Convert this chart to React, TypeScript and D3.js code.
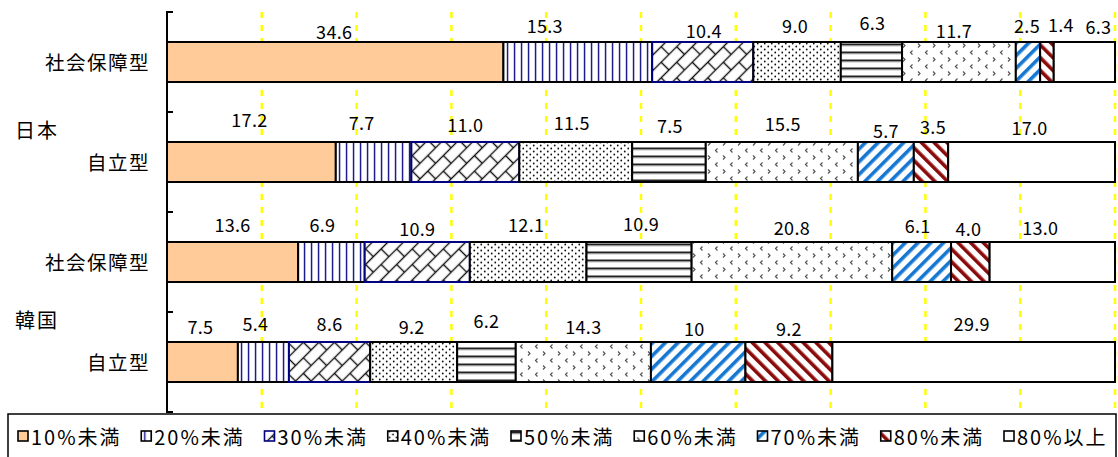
import React from "react";
import * as d3 from "d3";

const countries = ["日本", "韓国"];
const categories = ["社会保障型", "自立型", "社会保障型", "自立型"];
const seriesNames = ["10%未満", "20%未満", "30%未満", "40%未満", "50%未満", "60%未満", "70%未満", "80%未満", "80%以上"];

// printed values (as shown on the chart)
const japanSocial = ["34.6", "15.3", "10.4", "9.0", "6.3", "11.7", "2.5", "1.4", "6.3"];
const japanIndependent = ["17.2", "7.7", "11.0", "11.5", "7.5", "15.5", "5.7", "3.5", "17.0"];
const koreaSocial = ["13.6", "6.9", "10.9", "12.1", "10.9", "20.8", "6.1", "4.0", "13.0"];
const koreaIndependent = ["7.5", "5.4", "8.6", "9.2", "6.2", "14.3", "10", "9.2", "29.9"];

const rows = [japanSocial, japanIndependent, koreaSocial, koreaIndependent];

// label nudges [dx, dy] relative to segment centre (layout only)
const labelNudges = [
  [[-1, 3], [-33, -3], [1, 1.5], [-2, -3.5], [1, -6], [-5, 2], [-1, -3.5], [14, -4], [14, -2.5]],
  [[-2, -9], [-12, -6], [0, -4], [-4, -6], [1, -3], [1, -5], [0, 2], [2, -2], [-2, -1]],
  [[0, -4], [-9, -4], [0, 0], [-2, -4], [2, -5], [0, -1], [-4, -3], [-2, 0], [-12, -1]],
  [[-2, -2], [-8, -5], [0, -5], [-2, -2], [0, -8], [0, -2], [-4, 0], [0, 0], [-2, -5]],
];
const countryNudges = [17, 7];

const fills = ["#FFCC99", "url(#p20)", "url(#p30)", "url(#p40)", "url(#p50)", "url(#p60)", "url(#p70)", "url(#p80)", "#FFFFFF"];
const strokes = ["#000", "#000", "#000080", "#000", "#000", "#000", "#000", "#000", "#000"];

const FONT = "'Noto Sans CJK JP', 'Noto Sans', sans-serif";

export default function App() {
  const W = 1118;
  const H = 457;
  const x = d3.scaleLinear().domain([0, 1]).range([167, 1115]);
  const y = d3
    .scaleBand<number>()
    .domain(d3.range(rows.length))
    .range([12, 412])
    .paddingInner(0.6)
    .paddingOuter(0.3);
  const step = y.step();
  const bw = y.bandwidth();

  const stacked = rows.map((r) => {
    const vals = r.map((s) => +s);
    const total = d3.sum(vals);
    const cum = [0, ...Array.from(d3.cumsum(vals))];
    return vals.map((v, i) => ({ x0: cum[i] / total, x1: cum[i + 1] / total, text: r[i] }));
  });

  const gridVals = d3.range(1, 11).map((k) => k / 10);
  const legendX = d3.scaleLinear().domain([0, seriesNames.length - 1]).range([18, 1004]);

  return (
    <svg
      width={W}
      height={H}
      style={{ position: "absolute", left: 0, top: 0, background: "#fff" }}
      fontFamily={FONT}
    >
      <defs>
        <pattern id="p20" width={7} height={7} patternUnits="userSpaceOnUse">
          <rect width={7} height={7} fill="#fff" />
          <rect x={2.8} y={0} width={1.5} height={7} fill="#1c1c8a" />
        </pattern>
        <pattern id="p30" width={22} height={22} patternUnits="userSpaceOnUse" patternTransform="rotate(-45)">
          <rect width={22} height={22} fill="#fff" />
          <g stroke="#111" strokeWidth={1.4}>
            <line x1={0} y1={5.5} x2={22} y2={5.5} />
            <line x1={0} y1={16.5} x2={22} y2={16.5} />
            <line x1={5.5} y1={5.5} x2={5.5} y2={16.5} />
            <line x1={16.5} y1={16.5} x2={16.5} y2={22} />
            <line x1={16.5} y1={0} x2={16.5} y2={5.5} />
          </g>
        </pattern>
        <pattern id="p40" width={7} height={6} patternUnits="userSpaceOnUse">
          <rect width={7} height={6} fill="#fff" />
          <circle cx={1.75} cy={1.5} r={0.9} fill="#111" />
          <circle cx={5.25} cy={4.5} r={0.9} fill="#111" />
        </pattern>
        <pattern id="p50" width={8} height={8} patternUnits="userSpaceOnUse" y={1}>
          <rect width={8} height={8} fill="#fff" />
          <rect x={0} y={2.5} width={8} height={2} fill="#222" />
          <rect x={0} y={4.5} width={8} height={0.8} fill="#999" />
        </pattern>
        <pattern id="p60" width={15} height={14} patternUnits="userSpaceOnUse">
          <rect width={15} height={14} fill="#fff" />
          <g stroke="#555" strokeWidth={1.2} fill="none">
            <polyline points="3,1.5 5,3.5 3,5.5" />
            <polyline points="12.5,8.5 10.5,10.5 12.5,12.5" />
          </g>
        </pattern>
        <pattern id="p70" width={9} height={9} patternUnits="userSpaceOnUse" patternTransform="rotate(45)">
          <rect width={9} height={9} fill="#fff" />
          <rect x={0} y={0} width={3.6} height={9} fill="#1677D2" />
        </pattern>
        <pattern id="p80" width={9} height={9} patternUnits="userSpaceOnUse" patternTransform="rotate(-45)">
          <rect width={9} height={9} fill="#fff" />
          <rect x={0} y={0} width={3.6} height={9} fill="#8B0A0A" />
        </pattern>
      </defs>

      {/* yellow dashed gridlines */}
      {gridVals.map((g) => (
        <line
          key={g}
          x1={x(g)}
          x2={x(g)}
          y1={12}
          y2={413}
          stroke="#FFFF00"
          strokeWidth={2.5}
          strokeDasharray="6,7"
        />
      ))}

      {/* bars */}
      {stacked.map((segs, r) => (
        <g key={r}>
          {segs.map((s, i) => (
            <rect
              key={i}
              x={x(s.x0)}
              y={y(r)!}
              width={x(s.x1) - x(s.x0)}
              height={bw}
              fill={fills[i]}
              stroke={strokes[i]}
              strokeWidth={2}
            />
          ))}
        </g>
      ))}

      {/* value labels */}
      {stacked.map((segs, r) => (
        <g key={"l" + r}>
          {segs.map((s, i) => (
            <text
              key={i}
              x={(x(s.x0) + x(s.x1)) / 2 + labelNudges[r][i][0]}
              y={y(r)! - 14 + labelNudges[r][i][1]}
              textAnchor="middle"
              dominantBaseline="central"
              fontSize={18}
              letterSpacing={0.3}
              fill="#000"
            >
              {s.text}
            </text>
          ))}
        </g>
      ))}

      {/* axis */}
      <line x1={167} x2={167} y1={11} y2={413} stroke="#000" strokeWidth={2} />
      {d3.range(rows.length + 1).map((k) => (
        <line key={k} x1={166} x2={173} y1={12 + k * step} y2={12 + k * step} stroke="#000" strokeWidth={2} />
      ))}

      {/* category labels */}
      {categories.map((c, i) => (
        <text
          key={i}
          x={150}
          y={y(i)! + bw / 2 - 1}
          textAnchor="end"
          dominantBaseline="central"
          fontSize={19.5}
          letterSpacing={1.5}
          fill="#000"
        >
          {c}
        </text>
      ))}
      {countries.map((c, i) => (
        <text
          key={c}
          x={15}
          y={(y(i * 2)! + y(i * 2 + 1)! + bw) / 2 + countryNudges[i]}
          dominantBaseline="central"
          fontSize={20}
          letterSpacing={2}
          fill="#000"
        >
          {c}
        </text>
      ))}

      {/* legend */}
      <rect x={8} y={414} width={1108} height={60} fill="#fff" stroke="#000" strokeWidth={1.5} />
      {seriesNames.map((s, i) => (
        <g key={s} transform={`translate(${legendX(i)},436)`}>
          <rect x={0} y={-5} width={10} height={10} fill={fills[i]} stroke={strokes[i]} strokeWidth={1.6} />
          <text x={13} y={0} dominantBaseline="central" fontSize={20} letterSpacing={2} fill="#000">
            {s}
          </text>
        </g>
      ))}
    </svg>
  );
}
